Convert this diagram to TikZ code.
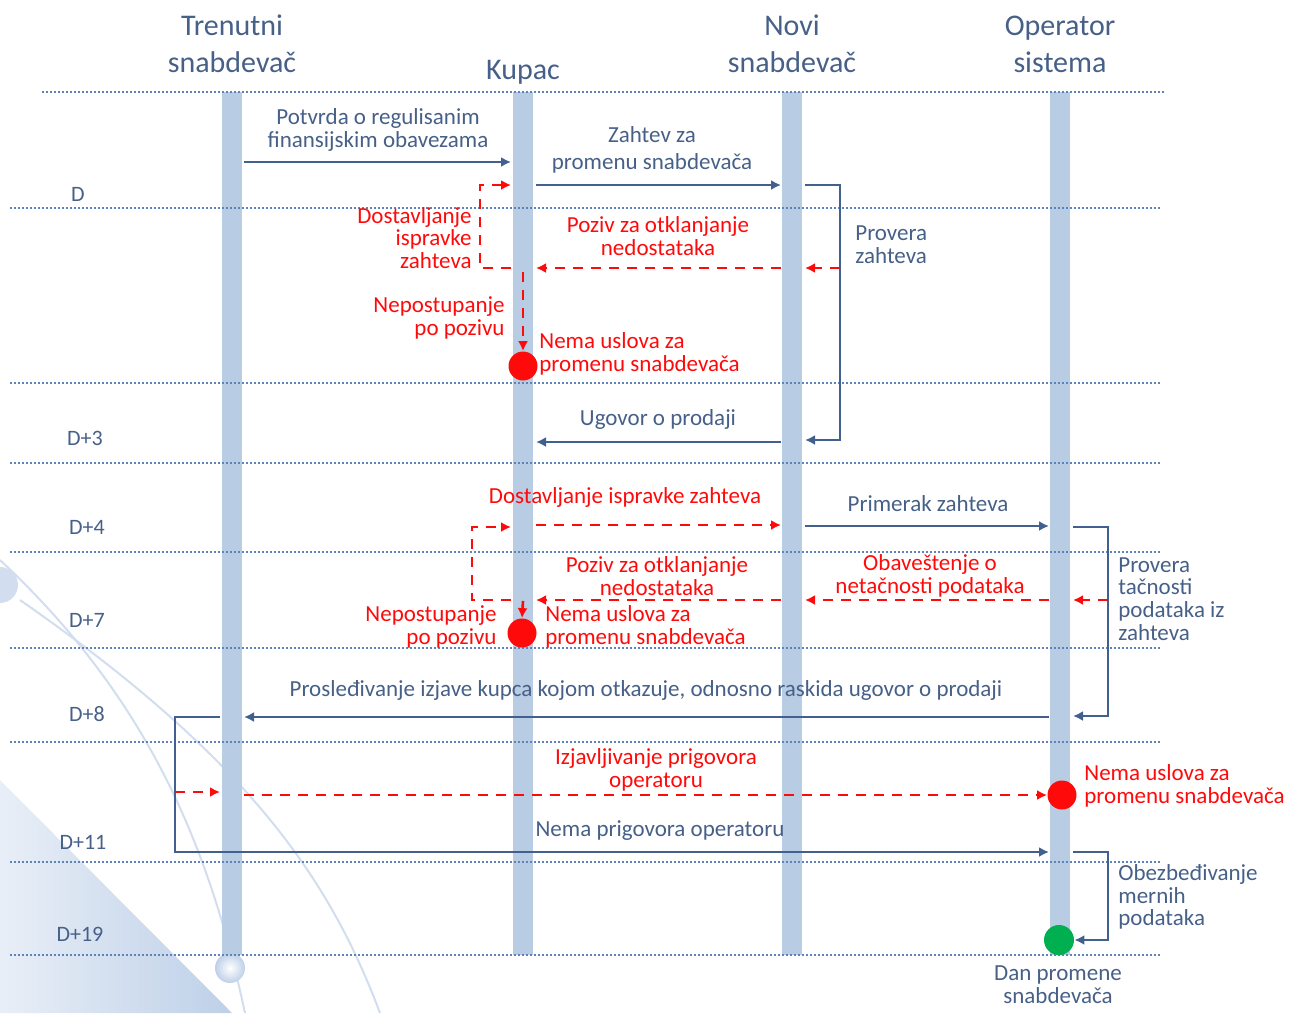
\documentclass[tikz,border=0pt]{standalone}
\usepackage{fontspec}
\setmainfont{Carlito}
\usetikzlibrary{arrows.meta}

\definecolor{lane}{RGB}{184,204,228}
\definecolor{grid}{RGB}{95,130,185}
\definecolor{msgblue}{RGB}{66,96,142}
\definecolor{txtblue}{RGB}{70,96,136}
\definecolor{alert}{RGB}{255,10,10}
\definecolor{okgreen}{RGB}{0,176,80}
\definecolor{deco}{RGB}{190,208,232}

\tikzset{
  lifeline/.style={draw=lane, line width=10pt},
  dayline/.style={draw=grid, line width=0.9pt, dash pattern=on 1pt off 1pt},
  msg/.style={draw=msgblue, line width=1pt, -{Latex[length=5pt,width=5pt]}},
  fail/.style={draw=alert, line width=1.3pt, dash pattern=on 5pt off 4pt, -{Latex[length=5pt,width=5pt]}},
  hdr/.style={text=txtblue, font=\fontsize{15}{18.5}\selectfont, align=center, inner sep=0pt},
  day/.style={text=txtblue, font=\fontsize{11}{13}\selectfont, inner sep=0pt},
  lbl/.style={text=txtblue, font=\fontsize{11.5}{11.4}\selectfont, align=center, inner sep=0pt},
  lblred/.style={lbl, text=alert},
  dot/.style={circle, fill=alert, minimum size=14.5pt, inner sep=0pt},
}

\begin{document}
\begin{tikzpicture}[x=0.5pt, y=-0.5pt]
  \useasboundingbox (0,0) rectangle (1289,1013);

  % background decoration, bottom left
  \shade[left color=deco!35!white, right color=deco] (0,780) -- (232,1013) -- (0,1013) -- cycle;
  \draw[deco!70!white, line width=1pt] (0,560) .. controls (150,700) and (210,850) .. (245,1013);
  \draw[deco!70!white, line width=1pt] (20,600) .. controls (250,760) and (330,880) .. (380,1013);
  \fill[deco!70!white] (0,585) circle (18);
  \shade[inner color=white, outer color=deco] (230,968) circle (15);

  % lifelines
  \coordinate (T) at (232,92);
  \coordinate (K) at (523,92);
  \coordinate (N) at (792,92);
  \coordinate (O) at (1060,92);
  \foreach \who in {T,K,N,O}
    \draw[lifeline] (\who) -- (\who |- 0,955);

  % sides of the lifelines and the loop columns
  \coordinate (T-l) at (220,92);  \coordinate (T-r) at (244,92);
  \coordinate (K-l) at (511,92);  \coordinate (K-r) at (536,92);
  \coordinate (N-l) at (781,92);  \coordinate (N-r) at (805,92);
  \coordinate (O-l) at (1049,92); \coordinate (O-r) at (1073,92);
  \coordinate (Tloop) at (175,92);
  \coordinate (Kloop) at (480,92);
  \coordinate (Kloop2) at (472,92);
  \coordinate (Nloop) at (840,92);
  \coordinate (Oloop) at (1108,92);

  % day rows
  \draw[dayline] (42,92) -- (1165,92);
  \foreach \y in {208,383,463,552,648,742,862,955}
    \draw[dayline] (10,\y) -- (1160,\y);

  % headers
  \node[hdr] (hT) at (232,44) {Trenutni\\snabdevač};
  \node[hdr] (hK) at (523,72) {Kupac};
  \node[hdr] (hN) at (792,44) {Novi\\snabdevač};
  \node[hdr] (hO) at (1060,44) {Operator\\sistema};

  % days
  \node[day] (d0) at (78,194) {D};
  \node[day] (d3) at (85,438) {D+3};
  \node[day] (d4) at (87,527) {D+4};
  \node[day] (d7) at (87,620) {D+7};
  \node[day] (d8) at (87,714) {D+8};
  \node[day] (d11) at (83,842) {D+11};
  \node[day] (d19) at (80,934) {D+19};

  % end points
  \node[dot] (stop1) at (523,366) {};
  \node[dot] (stop2) at (522,633) {};
  \node[dot] (stop3) at (1062,795) {};
  \node[dot, fill=okgreen, minimum size=15pt] (done) at (1059,940) {};

  % day D to D+3
  \draw[msg] (T-r |- 0,162) -- (K-l |- 0,162);
  \node[lbl] (m1) at (378,130) {Potvrda o regulisanim\\finansijskim obavezama};
  \draw[msg] (K-r |- 0,185) -- (N-l |- 0,185);
  \node[lbl, font=\fontsize{11.5}{13.5}\selectfont] (m2) at (652,150) {Zahtev za\\promenu snabdevača};
  \draw[msg] (N-r |- 0,185) -- (Nloop |- 0,185) -- (Nloop |- 0,440) -- (N-r |- 0,440);
  \node[lbl, anchor=west, align=left] (m3) at (855,245) {Provera\\zahteva};
  \draw[fail] (Nloop |- 0,268) -- (N-r |- 0,268);
  \draw[fail] (N-l |- 0,268) -- (K-r |- 0,268);
  \node[lblred] (m4) at (658,236) {Poziv za otklanjanje\\nedostataka};
  \draw[fail] (K-l |- 0,268) -- (Kloop |- 0,268) -- (Kloop |- 0,185) -- (K-l |- 0,185);
  \node[lblred, anchor=east, align=right] (m5) at (472,238) {Dostavljanje\\ispravke\\zahteva};
  \draw[fail] (K |- 0,272) -- (stop1.north);
  \node[lblred, anchor=east, align=right] (m6) at (505,318) {Nepostupanje\\po pozivu};
  \node[lblred, anchor=west, align=left] (m7) at (539,354) {Nema uslova za\\promenu snabdevača};
  \draw[msg] (N-l |- 0,442) -- (K-r |- 0,442);
  \node[lbl] (m8) at (658,419) {Ugovor o prodaji};

  % day D+4 to D+8
  \draw[fail] (K-r |- 0,525) -- (N-l |- 0,525);
  \node[lblred] (m9) at (625,497) {Dostavljanje ispravke zahteva};
  \draw[msg] (N-r |- 0,526) -- (O-l |- 0,526);
  \node[lbl] (m10) at (928,504) {Primerak zahteva};
  \draw[msg] (O-r |- 0,527) -- (Oloop |- 0,527) -- (Oloop |- 0,716) -- (O-r |- 0,716);
  \node[lbl, anchor=west, align=left] (m11) at (1118,599) {Provera\\tačnosti\\podataka iz\\zahteva};
  \draw[fail] (Oloop |- 0,600) -- (O-r |- 0,600);
  \draw[fail] (O-l |- 0,600) -- (N-r |- 0,600);
  \node[lblred] (m12) at (930,576) {Obaveštenje o\\netačnosti podataka};
  \draw[fail] (N-l |- 0,600) -- (K-r |- 0,600);
  \node[lblred] (m13) at (657,576) {Poziv za otklanjanje\\nedostataka};
  \draw[fail] (K-l |- 0,600) -- (Kloop2 |- 0,600) -- (Kloop2 |- 0,527) -- (K-l |- 0,527);
  \draw[fail] (K |- 0,601) -- (stop2.north);
  \node[lblred, anchor=east, align=right] (m14) at (497,627) {Nepostupanje\\po pozivu};
  \node[lblred, anchor=west, align=left] (m15) at (545,627) {Nema uslova za\\promenu snabdevača};
  \draw[msg] (O-l |- 0,717) -- (T-r |- 0,717);
  \node[lbl] (m16) at (646,690) {Prosleđivanje izjave kupca kojom otkazuje, odnosno raskida ugovor o prodaji};

  % day D+11 to D+19
  \draw[msg] (T-l |- 0,717) -- (Tloop |- 0,717) -- (Tloop |- 0,852) -- (O-l |- 0,852);
  \node[lbl] (m17) at (660,831) {Nema prigovora operatoru};
  \draw[fail] (Tloop |- 0,792) -- (T-l |- 0,792);
  \draw[fail] (T-r |- 0,795) -- (stop3.west);
  \node[lblred] (m18) at (656,770) {Izjavljivanje prigovora\\operatoru};
  \node[lblred, anchor=west, align=left] (m19) at (1084,786) {Nema uslova za\\promenu snabdevača};
  \draw[msg] (O-r |- 0,852) -- (Oloop |- 0,852) -- (Oloop |- 0,940) -- (done.east);
  \node[lbl, anchor=west, align=left] (m20) at (1118,897) {Obezbeđivanje\\mernih\\podataka};
  \node[lbl] (m21) at (1058,985) {Dan promene\\snabdevača};
\end{tikzpicture}
\end{document}
